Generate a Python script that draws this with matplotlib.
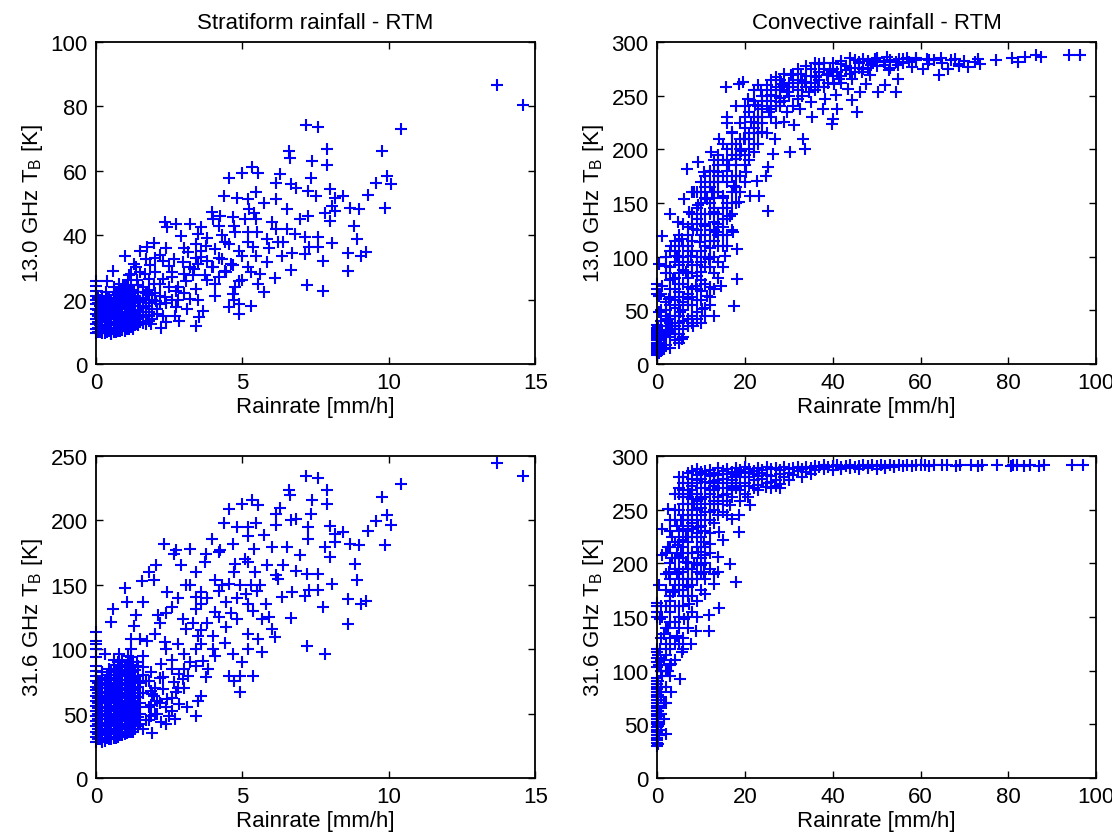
import matplotlib
matplotlib.use("Agg")
import matplotlib.pyplot as plt
import numpy as np

plt.rcParams['font.family'] = ['Liberation Sans', 'DejaVu Sans']
plt.rcParams['mathtext.default'] = 'regular'

# ---- data: (rainrate [mm/h], TB [K]) ----

# stratiform, 13.0 GHz
strat_13 = [
    (13.7, 86.7), (14.6, 80.5), (7.18, 74.1), (7.57, 73.6), (10.4, 73.1), (7.88, 66.8),
    (9.78, 66.3), (6.59, 66.0), (6.62, 63.9), (7.39, 62.9), (7.9, 61.9), (5.34, 61.1),
    (5.55, 59.4), (4.99, 59.4), (6.28, 58.9), (7.33, 57.8), (4.54, 57.8), (9.94, 58.3),
    (9.57, 56.3), (10.09, 55.8), (6.16, 56.3), (6.65, 55.8), (6.83, 54.7), (8.0, 54.2),
    (7.24, 53.7), (5.48, 53.4), (9.29, 52.6), (7.51, 52.1), (4.38, 52.1), (4.81, 51.6),
    (5.18, 51.1), (8.43, 52.1), (8.18, 51.6), (6.16, 51.1), (5.73, 50.1), (8.06, 49.0),
    (8.67, 48.5), (8.98, 48.0), (9.88, 48.5), (8.18, 47.5), (7.82, 46.9), (5.24, 48.2),
    (6.54, 48.0), (3.95, 47.2), (4.25, 45.9), (4.68, 45.6), (7.24, 46.1), (5.48, 45.1),
    (6.96, 45.1), (8.0, 44.4), (6.0, 44.0), (3.58, 42.5), (4.2, 43.0), (2.36, 44.2),
    (2.72, 43.5), (3.21, 43.5), (8.8, 43.0), (6.54, 42.0), (6.16, 42.0), (4.75, 40.9),
    (5.18, 40.9), (6.78, 40.4), (7.14, 39.4), (7.57, 39.4), (5.85, 38.9), (8.92, 38.7),
    (2.91, 39.7), (2.42, 42.5), (6.22, 37.8), (4.56, 37.3), (8.06, 37.5), (3.4, 37.3),
    (3.77, 36.8), (5.36, 36.3), (7.26, 36.3), (7.57, 36.3), (1.99, 37.5), (1.74, 36.3),
    (4.07, 35.8), (4.87, 35.2), (1.5, 35.2), (9.23, 34.7), (8.61, 34.5), (9.04, 33.7),
    (7.14, 34.2), (6.71, 34.5), (6.34, 33.7), (5.48, 33.7), (3.15, 34.7), (1.0, 33.7),
    (3.58, 33.2), (4.32, 32.6), (2.66, 32.6), (2.29, 32.1), (5.85, 31.6), (7.75, 32.1),
    (2.97, 31.6), (4.68, 30.6), (3.95, 30.1), (3.34, 29.5), (1.86, 30.6), (1.37, 30.1),
    (0.58, 29.0), (6.65, 29.3), (8.61, 29.0), (4.44, 28.5), (5.3, 28.5), (2.6, 28.5),
    (1.68, 28.0), (1.13, 27.5), (3.71, 27.5), (6.1, 26.6), (2.29, 26.4), (4.87, 25.9),
    (3.09, 25.9), (0.39, 25.9), (4.07, 24.9), (5.55, 24.9), (1.99, 24.9), (1.44, 24.4),
    (0.94, 23.8), (7.2, 24.4), (4.75, 23.8), (3.4, 23.3), (5.73, 22.3), (7.75, 22.8),
    (2.72, 22.8), (1.74, 22.3), (4.68, 21.8), (4.07, 21.2), (2.36, 20.7), (0.76, 21.8),
    (1.25, 20.7), (0.33, 22.3), (3.21, 20.2), (2.05, 19.7), (4.87, 18.7), (5.3, 18.1),
    (4.56, 17.6), (2.72, 17.6), (1.62, 17.6), (3.64, 16.6), (4.87, 15.5), (2.29, 15.0),
    (0.94, 14.5), (2.85, 13.5), (1.87, 12.4), (3.52, 14.5), (3.4, 11.9), (2.23, 11.1),
    (1.25, 10.9), (0.52, 9.3), (2.5, 30.5), (3.0, 36.0), (3.5, 31.0), (2.0, 28.5),
    (3.8, 26.0), (2.5, 24.0), (1.8, 26.5), (1.2, 24.5), (1.5, 28.5), (2.8, 20.0),
    (3.5, 40.5), (4.4, 38.0), (5.0, 33.5), (5.6, 28.0), (6.4, 38.0), (4.0, 45.0),
    (3.3, 27.5), (4.2, 27.0), (2.2, 34.0), (1.7, 32.5),
    (1.2, 28), (1.4, 26), (1.6, 24), (1.8, 23), (2.0, 22), (2.2, 21), (2.4, 19), (2.6, 20),
    (2.8, 24), (3.0, 28), (3.2, 30), (3.4, 33), (3.6, 35), (3.8, 32), (4.0, 30), (4.2, 33),
    (4.4, 29), (4.6, 31), (2.2, 25), (2.6, 27), (3.0, 22), (3.5, 20), (1.3, 31), (2.0, 33),
    (2.4, 36), (3.8, 39), (4.3, 40), (4.7, 43), (5.2, 38), (5.5, 41), (5.9, 36), (5.1, 45),
    (5.4, 47), (5.2, 30), (5.0, 26), (4.7, 20), (1.6, 20), (1.3, 22.5), (1.1, 26), (0.8, 25),
    (0.6, 24), (2.1, 17), (2.4, 13), (1.8, 15), (1.4, 14), (2.7, 15), (3.1, 17),
    # near-zero cluster
    (0.0, 9.5), (0.0, 11.0), (0.0, 12.5), (0.0, 14.0), (0.0, 15.5), (0.0, 17.0),
    (0.0, 18.5), (0.0, 20.0), (0.0, 21.1), (0.0, 22.7), (0.0, 24.2), (0.0, 25.8),
    (0.08, 9.8), (0.08, 11.2), (0.08, 13.1), (0.08, 15.0), (0.08, 16.9), (0.08, 18.8), (0.08, 20.5),
    (0.15, 10.0), (0.15, 12.1), (0.15, 14.2), (0.15, 16.0), (0.15, 18.1), (0.15, 19.8),
    (0.22, 9.5), (0.22, 11.0), (0.22, 13.0), (0.22, 15.0), (0.22, 17.0), (0.22, 19.0), (0.22, 21.0),
    (0.3, 9.6), (0.3, 11.5), (0.3, 13.4), (0.3, 15.6), (0.3, 17.5), (0.3, 19.4),
    (0.38, 10.0), (0.38, 11.0), (0.38, 13.0), (0.38, 14.5), (0.38, 16.5), (0.38, 18.5), (0.38, 20.5),
    (0.45, 10.1), (0.45, 12.0), (0.45, 14.1), (0.45, 16.2), (0.45, 18.0), (0.45, 20.3),
    (0.52, 9.4), (0.52, 11.0), (0.52, 13.0), (0.52, 15.0), (0.52, 17.3), (0.52, 19.8),
    (0.6, 10.0), (0.6, 12.2), (0.6, 14.0), (0.6, 16.5), (0.6, 19.0), (0.6, 21.4),
    (0.68, 9.8), (0.68, 11.3), (0.68, 13.2), (0.68, 15.4), (0.68, 17.8), (0.68, 20.2), (0.68, 22.5),
    (0.75, 10.4), (0.75, 12.6), (0.75, 15.0), (0.75, 17.1), (0.75, 19.5), (0.75, 22.0),
    (0.82, 10.1), (0.82, 11.6), (0.82, 14.0), (0.82, 16.0), (0.82, 18.5), (0.82, 21.0), (0.82, 23.0),
    (0.9, 10.6), (0.9, 13.0), (0.9, 15.4), (0.9, 18.0), (0.9, 20.6), (0.9, 23.1),
    (0.98, 10.3), (0.98, 12.0), (0.98, 14.5), (0.98, 17.0), (0.98, 19.2), (0.98, 22.0), (0.98, 24.5),
    (1.05, 11.0), (1.05, 13.5), (1.05, 16.0), (1.05, 18.6), (1.05, 21.0), (1.05, 24.0),
    (1.12, 11.0), (1.12, 12.5), (1.12, 15.0), (1.12, 17.5), (1.12, 20.0), (1.12, 22.8),
    (1.2, 11.4), (1.2, 14.1), (1.2, 16.4), (1.2, 19.1), (1.2, 22.0),
    (1.28, 11.5), (1.28, 13.0), (1.28, 15.5), (1.28, 18.0), (1.28, 20.5), (1.28, 23.0),
    (1.35, 12.0), (1.35, 15.0), (1.35, 18.1), (1.35, 21.0),
    (1.42, 12.0), (1.42, 14.0), (1.42, 16.8), (1.42, 19.8), (1.42, 22.5),
    (1.5, 13.1), (1.5, 16.0), (1.5, 19.4), (1.6, 12.8), (1.6, 14.5), (1.6, 17.5), (1.6, 20.5),
    (1.7, 12.5), (1.7, 15.1), (1.7, 18.0), (1.7, 21.9), (1.8, 13.5), (1.8, 16.0), (1.8, 19.0),
    (1.8, 21.5), (1.9, 14.0), (1.9, 17.1), (1.9, 20.0), (2.1, 15.5), (2.2, 18.5),
]

# convective, 13.0 GHz
conv_13 = [
    (93.7, 287.5), (96.2, 287.5), (86.2, 287.5), (87.4, 286), (83.7, 286), (80.9, 285),
    (82.1, 281.3), (77.2, 282.9), (73.2, 284.4), (72.4, 281.3), (73.6, 279.8), (68.7, 279.8),
    (67.9, 284.4), (70.7, 276.6), (68.7, 277.3), (66.3, 275.1), (64.2, 268.9), (64.6, 285),
    (63, 282.9), (61.8, 279.8), (60.6, 275.1), (61.4, 284.4), (58.9, 282.9), (58.1, 276.6),
    (57.3, 281.3), (56.1, 284.4), (54.9, 278.2), (54.5, 281.3), (54.9, 265.8), (54.5, 253.3),
    (52.4, 286), (51.6, 281.3), (52.8, 273.5), (52, 259.6), (50.4, 253.3), (49.6, 284.4),
    (48.8, 278.2), (48.4, 268.9), (47.6, 261.1), (46.7, 272), (45.9, 281.3), (46.3, 253.3),
    (45.5, 234.7), (44.3, 245.6), (44.3, 265.8), (43.5, 256.4), (43.1, 273.5), (41.9, 279.8),
    (41.5, 265.8), (41.1, 237.8), (40.7, 250.2), (40.2, 261.1), (40.1, 228.5), (39.8, 223.8),
    (39.4, 273.5), (38.6, 268.9), (38.2, 247.1), (37.8, 237.8), (37, 279.8), (36.6, 258),
    (36.2, 267.3), (35.4, 230), (35, 244), (34.6, 253.3), (33.7, 262.7), (33.6, 200.5),
    (33.3, 209.8), (32.9, 270.4), (32.5, 237.8), (32.1, 247.1), (31.3, 222.3), (30.9, 258),
    (30.5, 268.9), (29.7, 253.3), (29.5, 234.7), (28.9, 225.4), (30.3, 197.4), (28.5, 261.1),
    (28, 244), (27.2, 267.3), (26.8, 209.8), (26.4, 195.8), (26, 250.2), (25.6, 234.7),
    (25.2, 183.4), (24.8, 175.6), (25.2, 143), (24, 216), (23.6, 254.9), (23.2, 157),
    (22.8, 170.9), (22.4, 240.9), (22, 197.4), (21.5, 225.4), (21.1, 157), (20.7, 247.1),
    (20.3, 178.7), (19.9, 209.8), (19.5, 262.7), (19.1, 198.9), (18.7, 150.8), (18.7, 261.1),
    (18.3, 107.2), (17.9, 191.2), (17.5, 166.3), (17.3, 122.8), (17.1, 216), (18.3, 79.3),
    (17.5, 54.4), (16.7, 138.3), (16.3, 185), (15.9, 230), (15.7, 258), (15.4, 101),
    (15, 157), (14.6, 73), (14.2, 209.8), (13.8, 178.7), (13.4, 122.8), (13, 141.4),
    (13, 45), (12.6, 160.1), (12.2, 197.4), (11.8, 97.9), (11.4, 153.9), (11.4, 63.7),
    (11, 129), (10.6, 178.7), (10.2, 51.3), (10, 85.5), (9.8, 113.5), (9.3, 147.7),
    (9.3, 188.1), (8.9, 73), (8.5, 160.1), (8.1, 35.7), (8.1, 125.9), (7.7, 101),
    (7.3, 141.4), (7.1, 60.6), (6.9, 181.8), (6.5, 85.5), (6.1, 153.9), (5.7, 23.3),
    (5.7, 116.6), (5.3, 48.2), (5.1, 66.8), (4.9, 132.1), (4.5, 101), (4.1, 32.6),
    (3.7, 79.3), (3.3, 110.4), (3, 139.9), (2.8, 60.6), (2.4, 42), (2, 91.7),
    (1.6, 14), (1.2, 119.7), (1.2, 73), (0.8, 29.5), (0.4, 93.3), (0.4, 63.7), (0.4, 48.2),
    (1, 12), (2, 18), (3, 15), (1.5, 25), (2.5, 30), (4, 22), (5, 28), (3.5, 35), (6, 33),
    (1, 32), (2, 40), (4, 45), (6, 50), (3, 55), (5, 38), (7, 42), (8, 55), (9, 48),
    (10, 60), (1, 50), (2, 58), (11, 45), (12, 55), (6, 62), (1, 65), (3, 70), (5, 75),
    (7, 80), (9, 70), (11, 90), (2, 85), (4, 95), (6, 88), (8, 92), (10, 78), (12, 72),
    (13, 85), (14, 95), (3, 78), (5, 62), (4, 105), (6, 110), (8, 115), (10, 120),
    (12, 125), (14, 130), (9, 135), (11, 140), (13, 145), (16, 110), (15, 120), (7, 128),
    (5, 120), (17, 140), (10, 105), (12, 100), (8, 160), (10, 170), (12, 165), (14, 175),
    (16, 180), (13, 190), (15, 155), (18, 165), (11, 155), (17, 195), (20, 185), (19, 175),
    (14, 160), (21, 200), (16, 150), (15, 205), (17, 215), (19, 225), (21, 235), (23, 240),
    (20, 210), (22, 220), (24, 230), (26, 245), (18, 240), (25, 215), (27, 225), (28, 240),
    (30, 250), (16, 225), (22, 255), (25, 260), (28, 265), (31, 270), (34, 268), (37, 272),
    (40, 275), (43, 278), (46, 280), (30, 258), (33, 262), (36, 255), (39, 262), (42, 268),
    (45, 272), (48, 276), (50, 282), (53, 283), (56, 280), (35, 275), (38, 280), (44, 285),
    (28, 255), (24, 250), (9, 100), (11, 110), (13, 115), (15, 135), (7, 95), (8, 140),
    (13, 170), (18, 205), (20, 230), (23, 205), (26, 230), (32, 255), (12, 140), (10, 150),
    (3, 25), (4, 35), (5, 45), (6, 40), (7, 55), (8, 45), (9, 60), (10, 68), (8, 70), (7, 65),
    (6, 75), (5, 85), (4, 80), (3, 90), (2, 100), (3, 105), (5, 100), (7, 110), (9, 125),
    (11, 130), (12, 115), (13, 125), (14, 140), (15, 145), (16, 135), (17, 160), (18, 150),
    (19, 160), (20, 170), (21, 190), (22, 205), (23, 215), (24, 225), (25, 240), (27, 250),
    (29, 260), (31, 262), (33, 250), (35, 262), (37, 265), (39, 270), (41, 272), (44, 270),
    (47, 275), (50, 278), (53, 276), (10, 140), (11, 165), (12, 180), (13, 155), (14, 185),
    (15, 190), (16, 200), (17, 205), (18, 185), (19, 195), (20, 220), (21, 215), (22, 230),
    (23, 225), (24, 245), (26, 255), (27, 240), (29, 245), (31, 240), (6, 95), (8, 105),
    (10, 95), (12, 90), (9, 82), (11, 75), (7, 72), (5, 55), (4, 60), (3, 45), (2, 50),
    (1, 40), (2, 28), (3, 38), (4, 52), (6, 58), (8, 62), (13, 100), (14, 110), (15, 110),
    (16, 120), (17, 125), (9, 160), (10, 130), (11, 120), (12, 150), (13, 160), (14, 170),
    (16, 170), (18, 175), (19, 210), (20, 240), (22, 245), (23, 260), (26, 265), (29, 270),
    (32, 275), (34, 278), (36, 280), (38, 275), (40, 280), (42, 282), (45, 283), (47, 284),
    (49, 280), (52, 279), (55, 284), (57, 285), (59, 285), (62, 283), (65, 280), (67, 283),
    (70, 282),
    (1, 20), (2, 35), (3, 32), (4, 28), (5, 20), (6, 25), (7, 35), (8, 38), (9, 42), (10, 38),
    (11, 52), (12, 62), (13, 70), (14, 80), (15, 90), (2, 45), (3, 62), (4, 70), (5, 92),
    (6, 100), (7, 105), (8, 85), (9, 92), (10, 100), (11, 100), (12, 108), (13, 132),
    (14, 120), (15, 128), (16, 145), (17, 150), (18, 160), (4, 115), (5, 110), (6, 130),
    (7, 120), (8, 130), (9, 145), (10, 160), (11, 175), (12, 170), (13, 180), (14, 195),
    (15, 175), (16, 190), (17, 175), (18, 195), (19, 200), (20, 195), (21, 210), (22, 215),
    (23, 230), (24, 238), (25, 250), (26, 238), (27, 258), (28, 248), (30, 262), (32, 265),
    (34, 258), (36, 268), (38, 258), (40, 268), (42, 262), (44, 276), (46, 276), (48, 282),
    (50, 285),
    (0, 8), (0, 10), (0, 12), (0, 14), (0, 16), (0, 18), (0, 20), (0, 22), (0, 24), (0, 26),
    (0, 28), (0, 30), (0, 32), (0, 34), (0, 36), (0.3, 12), (0.3, 20), (0.3, 28), (0.3, 35),
    (0.5, 10), (0.5, 18), (0.5, 30), (0.6, 15), (0.6, 25), (0, 65), (0, 70), (0, 75),
]

# stratiform, 31.6 GHz
strat_31 = [
    (13.7, 244.8), (14.6, 234.5), (7.18, 234.5), (7.57, 233.2), (10.4, 228.5), (7.88, 223.3),
    (6.59, 223.3), (6.62, 219.4), (9.78, 218.1), (7.39, 215.5), (5.34, 216.1), (4.99, 213),
    (5.55, 212.2), (4.54, 209.1), (6.28, 209.6), (7.9, 213), (7.33, 205.2), (9.94, 203.9),
    (10.09, 196.6), (9.57, 199.2), (6.16, 205.2), (6.65, 200), (6.83, 201.3), (8.0, 195.6),
    (5.48, 198.2), (4.38, 198.2), (4.81, 194.8), (5.18, 194.8), (7.24, 194.8), (6.16, 196.6),
    (9.29, 191.5), (8.43, 190.9), (8.18, 189.6), (5.73, 188.3), (5.18, 187.8), (3.95, 185.8),
    (9.88, 180.6), (8.98, 180.6), (8.67, 181.9), (7.82, 179.3), (8.18, 183.2), (7.24, 185.8),
    (2.33, 181.9), (6.54, 179.3), (4.25, 176.7), (4.68, 181.9), (4.2, 175.4), (3.21, 178),
    (2.72, 176.7), (2.66, 174.1), (8.0, 171.5), (6.0, 179.3), (6.96, 172.8), (3.77, 174.1),
    (8.86, 166.3), (4.75, 166.3), (5.18, 167.6), (5.85, 165), (2.91, 165), (2.05, 165),
    (3.71, 167.6), (1.8, 159.8), (3.4, 159.8), (6.83, 161.1), (7.57, 158.5), (7.2, 158.5),
    (6.16, 157.3), (5.42, 159.8), (4.07, 153.4), (6.22, 154.7), (8.92, 153.4), (1.56, 152.6),
    (1.99, 153.4), (8.06, 150.8), (3.09, 149.5), (4.56, 150.8), (1.0, 147.4), (4.93, 149.5),
    (5.3, 149.5), (7.26, 145.6), (7.57, 145.6), (2.42, 144.3), (3.58, 144.3), (6.71, 144.3),
    (5.12, 143), (7.14, 141.2), (3.4, 140.4), (9.23, 137.8), (9.04, 135.2), (8.61, 139.1),
    (6.34, 140.4), (5.79, 135.2), (4.44, 136.5), (1.07, 137), (1.62, 136.5), (0.58, 131.3),
    (2.6, 132.6), (3.4, 131.3), (4.07, 128.8), (5.36, 130), (7.75, 132.6), (2.11, 126.2),
    (1.37, 126.2), (6.65, 124.1), (5.67, 123.6), (4.81, 123.6), (2.97, 123.6), (8.61, 119.7),
    (0.52, 121), (3.09, 115.8), (4.44, 117.1), (6.0, 115.3), (5.18, 111.9), (6.1, 109.3),
    (1.19, 108), (1.74, 106.7), (2.36, 105.4), (2.79, 104.1), (3.58, 104.1), (5.55, 108),
    (4.01, 100.3), (7.2, 102.8), (4.68, 96.4), (5.67, 97.7), (7.82, 96.4), (4.07, 95.1),
    (3.64, 91.2), (2.23, 88.6), (3.4, 87.3), (2.6, 84.7), (1.62, 86), (3.83, 84.7),
    (1.87, 82.1), (2.85, 80.8), (2.97, 76.9), (2.29, 78.2), (3.77, 78.2), (4.56, 79),
    (4.93, 79.5), (5.36, 79), (1.25, 75.6), (2.66, 74.4), (3.15, 79.5), (1.87, 67.9),
    (2.29, 69.2), (2.72, 66.6), (4.91, 67.1), (3.58, 64), (2.42, 61.4), (1.99, 64),
    (1.87, 56.7), (2.85, 57.5), (2.6, 52.3), (2.48, 48.4), (3.4, 48.4), (1.87, 48.4),
    (2.23, 43.3), (1.31, 43.3), (1.25, 36), (3.3, 120.0), (3.6, 135.0), (2.8, 140.0),
    (4.2, 145.0), (3.0, 96.0), (2.2, 120.0), (1.5, 108.0), (1.6, 95.0), (2.4, 100.0),
    (3.5, 110.0), (4.8, 140.0), (5.6, 150.0), (6.4, 165.0), (3.2, 150.0),
    (1.2, 100), (1.4, 90), (1.6, 80), (1.8, 75), (2.0, 70), (2.2, 58), (2.4, 55), (2.6, 62),
    (2.8, 70), (3.0, 85), (3.2, 90), (3.4, 100), (3.6, 115), (3.8, 120), (4.0, 110), (4.2, 125),
    (4.4, 105), (4.6, 128), (2.2, 78), (2.6, 92), (3.0, 70), (3.5, 60), (1.3, 118), (2.0, 112),
    (2.4, 128), (3.8, 140), (4.3, 150), (4.7, 160), (5.2, 135), (5.5, 145), (5.9, 125),
    (5.1, 170), (5.4, 178), (5.2, 100), (5.0, 90), (4.7, 75), (1.6, 66), (1.3, 70), (1.1, 95),
    (0.8, 96), (0.6, 92), (2.1, 50), (2.4, 42), (1.8, 45), (1.4, 50), (2.7, 46), (3.1, 55),
    (0.3, 96), (0.2, 82), (1.6, 38), (1.9, 35),
    # near-zero cluster
    (0.0, 28), (0.0, 32), (0.0, 36), (0.0, 40), (0.0, 44), (0.0, 48), (0.0, 52), (0.0, 56),
    (0.0, 60), (0.0, 64), (0.0, 68), (0.0, 71), (0.0, 75), (0.0, 79), (0.0, 83), (0.0, 87),
    (0.0, 94), (0.0, 100), (0.0, 104), (0.0, 106), (0.0, 113),
    (0.08, 30), (0.08, 34), (0.08, 38), (0.08, 42), (0.08, 46), (0.08, 50), (0.08, 54),
    (0.08, 58), (0.08, 62), (0.08, 66), (0.08, 70), (0.08, 74),
    (0.15, 30), (0.15, 36), (0.15, 42), (0.15, 48), (0.15, 54), (0.15, 60), (0.15, 66), (0.15, 72),
    (0.22, 28), (0.22, 33), (0.22, 38), (0.22, 43), (0.22, 49), (0.22, 55), (0.22, 61),
    (0.22, 67), (0.22, 73), (0.22, 78),
    (0.3, 29), (0.3, 34), (0.3, 40), (0.3, 46), (0.3, 52), (0.3, 58), (0.3, 64), (0.3, 70), (0.3, 76),
    (0.38, 31), (0.38, 37), (0.38, 43), (0.38, 49), (0.38, 55), (0.38, 61), (0.38, 67),
    (0.38, 73), (0.38, 80),
    (0.45, 30), (0.45, 36), (0.45, 42), (0.45, 48), (0.45, 54), (0.45, 60), (0.45, 66), (0.45, 72),
    (0.45, 78), (0.45, 85),
    (0.52, 30), (0.52, 34), (0.52, 40), (0.52, 46), (0.52, 52), (0.52, 58), (0.52, 64),
    (0.52, 70), (0.52, 76), (0.52, 82),
    (0.6, 31), (0.6, 37), (0.6, 43), (0.6, 49), (0.6, 55), (0.6, 61), (0.6, 67), (0.6, 73),
    (0.6, 80), (0.6, 88),
    (0.68, 31), (0.68, 35), (0.68, 41), (0.68, 47), (0.68, 53), (0.68, 59), (0.68, 65),
    (0.68, 71), (0.68, 77), (0.68, 84),
    (0.75, 32), (0.75, 38), (0.75, 44), (0.75, 50), (0.75, 56), (0.75, 62), (0.75, 68), (0.75, 74),
    (0.75, 82), (0.75, 90),
    (0.82, 33), (0.82, 36), (0.82, 42), (0.82, 48), (0.82, 54), (0.82, 60), (0.82, 66),
    (0.82, 72), (0.82, 79), (0.82, 86),
    (0.9, 33), (0.9, 39), (0.9, 45), (0.9, 51), (0.9, 57), (0.9, 63), (0.9, 69), (0.9, 76),
    (0.9, 84), (0.9, 92),
    (0.98, 34), (0.98, 38), (0.98, 44), (0.98, 50), (0.98, 56), (0.98, 62), (0.98, 68),
    (0.98, 74), (0.98, 81), (0.98, 88),
    (1.05, 35), (1.05, 41), (1.05, 47), (1.05, 53), (1.05, 59), (1.05, 65), (1.05, 72), (1.05, 80),
    (1.05, 88),
    (1.12, 36), (1.12, 40), (1.12, 46), (1.12, 52), (1.12, 58), (1.12, 64), (1.12, 70),
    (1.12, 76), (1.12, 84), (1.12, 90),
    (1.2, 36), (1.2, 43), (1.2, 50), (1.2, 57), (1.2, 64), (1.2, 71), (1.2, 78), (1.2, 86), (1.2, 94),
    (1.28, 38), (1.28, 42), (1.28, 48), (1.28, 55), (1.28, 62), (1.28, 69), (1.28, 76),
    (1.28, 82), (1.28, 90),
    (1.35, 38), (1.35, 45), (1.35, 52), (1.35, 60), (1.35, 68), (1.35, 76), (1.35, 84),
    (1.42, 40), (1.42, 47), (1.42, 55), (1.42, 63), (1.42, 71), (1.42, 79), (1.42, 87),
    (1.5, 42), (1.5, 50), (1.5, 58), (1.5, 66), (1.5, 74),
    (1.7, 45), (1.8, 55), (1.9, 65), (1.7, 75), (2.0, 50), (2.1, 60),
]

# convective, 31.6 GHz
conv_31 = [
    (97, 292), (94.5, 292), (88, 292), (87, 291), (85, 292), (83.5, 291), (82, 291.5), (81, 292),
    (80.5, 291), (77.5, 292), (74, 292), (73, 291), (71.5, 292), (69, 292), (68, 291), (66, 292),
    (65, 291.5), (63, 292), (62, 291), (61, 292), (60, 291.5), (59, 292), (58, 291), (57, 292),
    (56, 291), (55, 292), (54, 291), (53, 292), (52, 291), (51, 292), (50, 291), (49, 292),
    (48, 291), (47, 292), (46, 291), (45, 290), (44, 292), (43, 291), (42, 290), (41, 292),
    (40, 291), (39, 290), (38, 292), (37, 290), (36, 291), (35, 289), (34, 290), (33, 288),
    (32, 290), (31, 289), (30, 288), (29, 290), (28, 287), (27, 289), (26, 288), (25, 290),
    (24, 287), (23, 289), (22, 286), (21, 288), (20, 290), (19, 287), (18, 289), (17, 285),
    (16, 288), (15, 286), (14, 289), (13, 284), (12, 287), (11, 283), (10, 285), (9, 282),
    (8, 279), (7, 275), (6, 268),
    (35, 283), (33, 280), (30, 278), (28, 274), (26, 276), (24.8, 271), (23, 273), (22, 270),
    (21.1, 254), (20.7, 261.7), (19, 268), (18.7, 244.6), (18.7, 229), (17.1, 241.5),
    (16.7, 254), (17, 272), (16, 265), (15, 221.3), (15, 258), (14.2, 229), (14, 275),
    (13.8, 205.8), (16.7, 199.6), (17.9, 182.5), (13.8, 191.8), (13, 190.2), (13, 181),
    (13, 250), (12, 265), (12, 240), (11.8, 151.4), (14.2, 158.2), (11.8, 137.4), (11, 171.6),
    (11, 270), (10.6, 191.8), (10.6, 219.8), (10, 245), (10, 260), (9.3, 210.4), (9.3, 233.8),
    (9, 275), (8.9, 137.4), (8.5, 200), (8.5, 255), (8, 225), (8, 180), (7.7, 125),
    (7.5, 265), (7.3, 162.3), (7, 240), (7, 195), (6.9, 179.4), (6.5, 201.1), (6.5, 225),
    (6, 255), (6.1, 148.3), (6, 170), (5.7, 117.2), (5.5, 210), (5.5, 240), (5.3, 92.3),
    (5, 160), (5, 265), (4.9, 216.7), (4.5, 132.7), (4.5, 190), (4.5, 235), (4, 250),
    (4, 175), (4, 145), (3.7, 173.1), (3.5, 205), (3.5, 225), (3.3, 106.3), (3.3, 79.9),
    (3, 120), (3, 155), (2.8, 191.8), (2.5, 215), (2.4, 250.9), (2.5, 100), (2.5, 140),
    (2, 160.7), (2, 125), (2, 85), (1.6, 134.3), (1.6, 55), (1.5, 70), (1.5, 110),
    (1.2, 232.2), (1.2, 207.3), (1.2, 150), (1.2, 95), (2, 41), (1, 45), (0.8, 148.3),
    (0.8, 120), (0.8, 60), (0.4, 179.4), (0.5, 105), (0.5, 80), (0.5, 40),
    (6, 280), (7, 284), (8, 286), (9, 288), (10, 279), (11, 276), (12, 281), (13, 277),
    (14, 282), (15, 279), (16, 283), (17, 278), (18, 282), (19, 280), (20, 284), (21, 280),
    (22, 283), (23, 281), (24, 284), (25, 282), (9, 265), (10, 270), (11, 262), (12, 255),
    (13, 268), (14, 262), (15, 270), (16, 275), (17, 262), (18, 270), (19, 258), (20, 275),
    (8, 260), (7, 255), (6, 245), (9, 250), (10, 235), (11, 248), (12, 228), (13, 238),
    (14, 245), (8, 245), (7, 230), (6, 232), (5, 250), (4.5, 210), (7, 210), (9, 215),
    (10, 205), (11, 200), (8, 195), (9, 185), (6, 185), (7, 170), (5, 175), (4, 195),
    (3, 185), (5, 140), (6, 130), (4, 125), (3, 105), (2, 100), (1, 130), (1, 160),
    (2, 175), (3, 165),
    (20, 280), (22, 278), (24, 279), (26, 281), (28, 283), (30, 284), (32, 286), (34, 285),
    (36, 287), (38, 288), (40, 287), (42, 288), (44, 289), (46, 288), (48, 289), (50, 288),
    (52, 289), (54, 290), (21, 272), (23, 268), (25, 275), (27, 278), (29, 280), (31, 282),
    (26, 270), (27, 272), (28, 270),
    (5, 270), (6, 262), (7, 268), (8, 272), (9, 278), (10, 283), (11, 286), (12, 275),
    (13, 283), (14, 270), (15, 264), (16, 258), (17, 268), (18, 275), (19, 272), (20, 265),
    (8, 250), (9, 240), (10, 252), (11, 240), (12, 248), (13, 258), (14, 255), (15, 248),
    (16, 245), (6, 240), (7, 245), (5, 230), (6, 215), (7, 220), (8, 232), (9, 225),
    (10, 215), (11, 230), (12, 218), (4, 220), (3, 230), (3, 200), (4, 205), (5, 195),
    (6, 205), (7, 200), (8, 210), (9, 200), (10, 190), (11, 185), (12, 195), (4, 180),
    (5, 185), (6, 175), (7, 185), (8, 170), (9, 165), (10, 175), (3, 170), (2, 190),
    (2, 210), (3, 145), (4, 160), (5, 150), (6, 160), (7, 150), (8, 155), (9, 150),
    (2, 140), (3, 130), (4, 110), (5, 125), (6, 120), (7, 140), (1, 100), (1, 110),
    (2, 115), (3, 95), (1, 85), (2, 70), (1, 60), (1, 75),
    (3, 240), (4, 265), (5, 280), (6, 275), (7, 262), (8, 268), (9, 258), (10, 262),
    (11, 255), (12, 268), (13, 272), (14, 278), (15, 283), (16, 270), (17, 280), (18, 284),
    (19, 285), (21, 285), (6, 222), (7, 235), (8, 238), (9, 228), (10, 225), (11, 215),
    (12, 210), (5, 220), (4, 240), (3, 215), (9, 192), (8, 185), (7, 178), (6, 192),
    (5, 205), (10, 198), (11, 208),
    (0, 30), (0, 32.5), (0, 35), (0, 37.5), (0, 40), (0, 42.5), (0, 45), (0, 47.5), (0, 50),
    (0, 52.5), (0, 55), (0, 57.5), (0, 60), (0, 62.5), (0, 65), (0, 67.5), (0, 70), (0, 72.5),
    (0, 75), (0, 77.5), (0, 80), (0, 82.5), (0, 85), (0, 87.5), (0, 90), (0, 93),
    (0, 103), (0, 108), (0, 112), (0, 117), (0, 120),
    (0, 150), (0, 155), (0, 160), (0, 163), (0.2, 32), (0.2, 48), (0.2, 62), (0.2, 77),
    (0.2, 90), (0.2, 115), (0.3, 40), (0.3, 55), (0.3, 70), (0.3, 85),
]

titles = ['Stratiform rainfall - RTM', 'Convective rainfall - RTM']
ylabels = ['13.0 GHz T$_B$ [K]', '31.6 GHz T$_B$ [K]']
xlabel = 'Rainrate [mm/h]'

panels = [
    # (points, xlim, xticks, ylim, yticks)
    (strat_13, (0, 15), [0, 5, 10, 15], (0, 100), [0, 20, 40, 60, 80, 100]),
    (conv_13, (0, 100), [0, 20, 40, 60, 80, 100], (0, 300), [0, 50, 100, 150, 200, 250, 300]),
    (strat_31, (0, 15), [0, 5, 10, 15], (0, 250), [0, 50, 100, 150, 200, 250]),
    (conv_31, (0, 100), [0, 20, 40, 60, 80, 100], (0, 300), [0, 50, 100, 150, 200, 250, 300]),
]

fig = plt.figure(figsize=(11.12, 8.37), dpi=100)
positions = [
    [0.0863, 0.5639, 0.395, 0.3847],
    [0.5908, 0.5639, 0.395, 0.3847],
    [0.0863, 0.0693, 0.395, 0.3847],
    [0.5908, 0.0693, 0.395, 0.3847],
]

for i, (pts, xl, xt, yl, yt) in enumerate(panels):
    ax = fig.add_axes(positions[i])
    arr = np.array(pts)
    ax.plot(arr[:, 0], arr[:, 1], '+', color='#0000ff', markersize=8, markeredgewidth=1.5,
            clip_on=False)
    ax.set_xlim(*xl)
    ax.set_ylim(*yl)
    ax.set_xticks(xt)
    ax.set_yticks(yt)
    ax.tick_params(direction='in', top=True, right=True, length=5, width=1,
                   labelsize=16, pad=6)
    for s in ax.spines.values():
        s.set_linewidth(1.3)
    ax.set_xlabel(xlabel, fontsize=16, labelpad=2)
    ax.set_ylabel(ylabels[i // 2], fontsize=16, labelpad=4)
    if i < 2:
        ax.set_title(titles[i], fontsize=16, pad=10)

fig.savefig('out.png', dpi=100)
